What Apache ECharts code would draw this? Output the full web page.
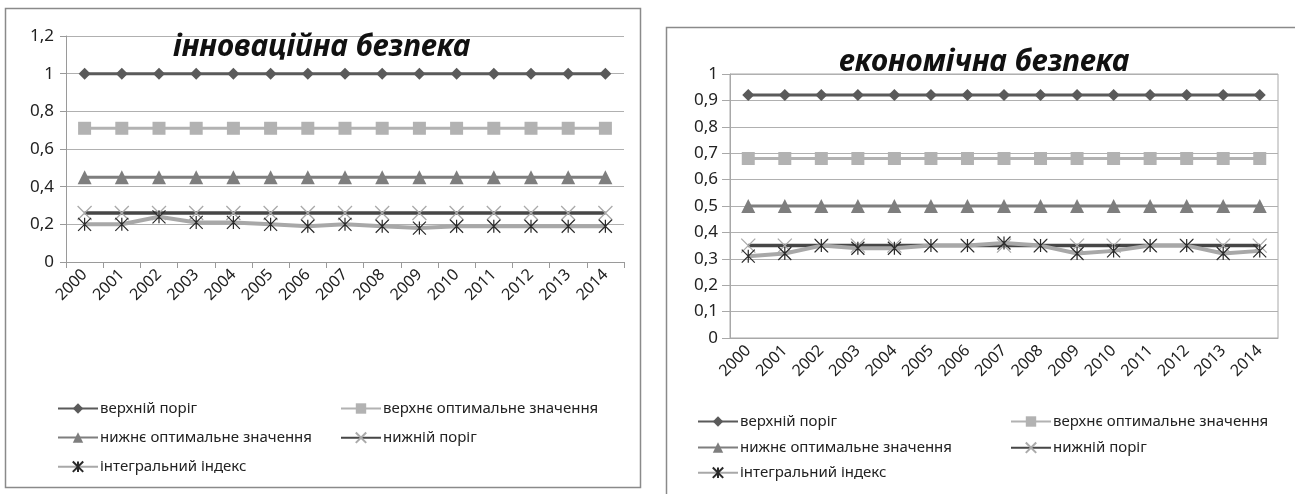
<!DOCTYPE html>
<html>
<head>
<meta charset="utf-8">
<script src="https://cdn.jsdelivr.net/npm/echarts@6/dist/echarts.min.js"></script>
<style>
html,body{margin:0;padding:0;background:#fff;}
#c{width:1295px;height:494px;}
</style>
</head>
<body>
<div id="c"></div>
<script>
var years = ['2000','2001','2002','2003','2004','2005','2006','2007','2008','2009','2010','2011','2012','2013','2014'];
var seriesNames = ['верхній поріг','верхнє оптимальне значення','нижнє оптимальне значення','нижній поріг','інтегральний індекс'];
var titleInnov = 'інноваційна безпека';
var titleEcon = 'економічна безпека';

// інноваційна безпека
var innovUpper = [1,1,1,1,1,1,1,1,1,1,1,1,1,1,1];
var innovUpperOpt = [0.71,0.71,0.71,0.71,0.71,0.71,0.71,0.71,0.71,0.71,0.71,0.71,0.71,0.71,0.71];
var innovLowerOpt = [0.45,0.45,0.45,0.45,0.45,0.45,0.45,0.45,0.45,0.45,0.45,0.45,0.45,0.45,0.45];
var innovLower = [0.26,0.26,0.26,0.26,0.26,0.26,0.26,0.26,0.26,0.26,0.26,0.26,0.26,0.26,0.26];
var innovIndex = [0.20,0.20,0.24,0.21,0.21,0.20,0.19,0.20,0.19,0.18,0.19,0.19,0.19,0.19,0.19];

// економічна безпека
var econUpper = [0.92,0.92,0.92,0.92,0.92,0.92,0.92,0.92,0.92,0.92,0.92,0.92,0.92,0.92,0.92];
var econUpperOpt = [0.68,0.68,0.68,0.68,0.68,0.68,0.68,0.68,0.68,0.68,0.68,0.68,0.68,0.68,0.68];
var econLowerOpt = [0.50,0.50,0.50,0.50,0.50,0.50,0.50,0.50,0.50,0.50,0.50,0.50,0.50,0.50,0.50];
var econLower = [0.35,0.35,0.35,0.35,0.35,0.35,0.35,0.35,0.35,0.35,0.35,0.35,0.35,0.35,0.35];
var econIndex = [0.31,0.32,0.35,0.34,0.34,0.35,0.35,0.36,0.35,0.32,0.33,0.35,0.35,0.32,0.33];

var FONT = '"Noto Sans", sans-serif';
var asterisk = 'path://M0,0L10,10M10,0L0,10M5,0L5,10';
var cross = 'path://M0,0L10,10M10,0L0,10';

var styles = [
  {color:'#5a5a5a', width:3, symbol:'diamond', size:12, item:{color:'#5a5a5a'}},
  {color:'#b2b2b2', width:3, symbol:'rect', size:13, item:{color:'#b2b2b2'}},
  {color:'#7e7e7e', width:3, symbol:'triangle', size:14, item:{color:'#7e7e7e'}},
  {color:'#464646', width:3.5, symbol:cross, size:14, item:{color:'none', borderColor:'#aaaaaa', borderWidth:1.3}},
  {color:'#a8a8a8', width:4, symbol:asterisk, size:13, item:{color:'none', borderColor:'#2a2a2a', borderWidth:1.2}}
];

function mkSeries(idx, data, gi){
  var s = styles[idx];
  return {
    type:'line', name:seriesNames[idx], data:data,
    xAxisIndex:gi, yAxisIndex:gi,
    symbol:s.symbol, symbolSize:s.size, showAllSymbol:true,
    lineStyle:{color:s.color, width:s.width},
    itemStyle:s.item,
    animation:false, z: 2+idx
  };
}

function commaFmt(v){ return String(Math.round(v*10)/10).replace('.', ','); }

var legends = [];
function addLegend(idx, left, top){
  legends.push({
    data:[seriesNames[idx]], left:left, top:top, orient:'horizontal',
    itemWidth:40, itemHeight:13, itemGap:0, padding:0, selectedMode:false,
    textStyle:{fontFamily:FONT, fontSize:15, color:'#222', padding:[0,0,0,-3]}
  });
}
// left chart legend
addLegend(0, 57, 401);
addLegend(1, 340, 401);
addLegend(2, 57, 430);
addLegend(3, 340, 430);
addLegend(4, 57, 459);
// right chart legend
addLegend(0, 697, 414);
addLegend(1, 1010, 414);
addLegend(2, 697, 440);
addLegend(3, 1010, 440);
addLegend(4, 697, 465);

var option = {
  backgroundColor:'#fff',
  animation:false,
  graphic:[
    {type:'rect', shape:{x:5.5, y:8.5, width:635, height:479}, style:{fill:'none', stroke:'#8a8a8a', lineWidth:1.5}, z:0},
    {type:'rect', shape:{x:666.5, y:27.5, width:640, height:480}, style:{fill:'none', stroke:'#8a8a8a', lineWidth:1.5}, z:0}
  ],
  title:[
    {text:titleInnov, left:168, top:27, textStyle:{fontFamily:FONT, fontSize:30, fontWeight:'bold', fontStyle:'italic', color:'#111'}},
    {text:titleEcon, left:834, top:42, textStyle:{fontFamily:FONT, fontSize:30, fontWeight:'bold', fontStyle:'italic', color:'#111'}}
  ],
  legend:legends,
  grid:[
    {left:66, right:671, top:36, bottom:232, containLabel:false},
    {left:730, right:17, top:74, bottom:156, containLabel:false, show:true, borderColor:'#a8a8a8', borderWidth:1}
  ],
  xAxis:[
    {type:'category', gridIndex:0, data:years, boundaryGap:true,
     axisLine:{lineStyle:{color:'#9a9a9a', width:1}},
     axisTick:{show:true, length:6, lineStyle:{color:'#9a9a9a'}},
     axisLabel:{rotate:45, fontFamily:FONT, fontSize:16, color:'#222', margin:10, interval:0}},
    {type:'category', gridIndex:1, data:years, boundaryGap:true,
     axisLine:{lineStyle:{color:'#a8a8a8', width:1}},
     axisTick:{show:false},
     axisLabel:{rotate:45, fontFamily:FONT, fontSize:16, color:'#222', margin:10, interval:0}}
  ],
  yAxis:[
    {type:'value', gridIndex:0, min:0, max:1.2, interval:0.2,
     axisLine:{show:true, lineStyle:{color:'#9a9a9a'}},
     axisTick:{show:true, length:6, lineStyle:{color:'#9a9a9a'}},
     splitLine:{lineStyle:{color:'#b0b0b0', width:1.2}},
     axisLabel:{fontFamily:FONT, fontSize:17, color:'#222', margin:12, formatter:commaFmt}},
    {type:'value', gridIndex:1, min:0, max:1, interval:0.1,
     axisLine:{show:true, lineStyle:{color:'#a8a8a8'}},
     axisTick:{show:true, length:8, lineStyle:{color:'#a8a8a8'}},
     splitLine:{lineStyle:{color:'#b0b0b0', width:1.2}},
     axisLabel:{fontFamily:FONT, fontSize:17, color:'#222', margin:12, formatter:commaFmt}}
  ],
  series:[
    mkSeries(0, innovUpper, 0), mkSeries(1, innovUpperOpt, 0), mkSeries(2, innovLowerOpt, 0), mkSeries(3, innovLower, 0), mkSeries(4, innovIndex, 0),
    mkSeries(0, econUpper, 1), mkSeries(1, econUpperOpt, 1), mkSeries(2, econLowerOpt, 1), mkSeries(3, econLower, 1), mkSeries(4, econIndex, 1)
  ]
};

var chart = echarts.init(document.getElementById('c'), null, {renderer:'canvas'});
chart.setOption(option);
</script>
</body>
</html>
